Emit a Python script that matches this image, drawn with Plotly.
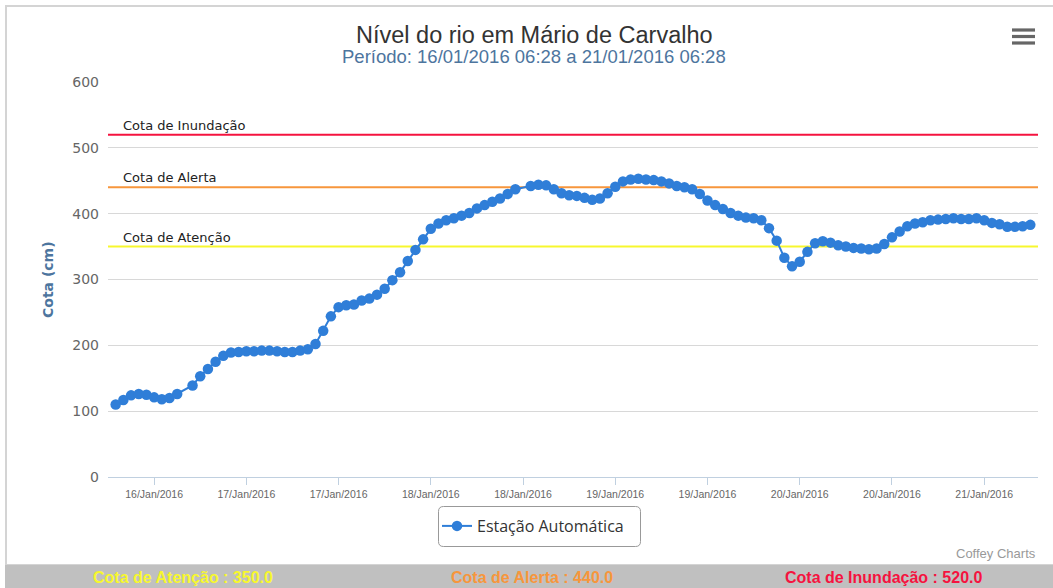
import pandas as pd
import plotly.graph_objects as go

# ---- data ----
start_time = "2016-01-16 07:00"
levels = [110, 117, 124, 126, 125, 121, 118, 120, 126, None,
          139, 153, 164, 175, 184, 189, 190, 191, 191, 192,
          192, 191, 190, 190, 192, 194, 202, 222, 244, 258,
          261, 262, 268, 271, 277, 286, 299, 311, 328, 345,
          361, 377, 385, 390, 393, 397, 401, 408, 413, 418,
          423, 430, 437, None, 442, 444, 443, 437, 431, 428,
          427, 424, 421, 423, 431, 441, 449, 452, 453, 452,
          451, 449, 446, 442, 440, 437, 430, 420, 413, 407,
          401, 397, 394, 393, 390, 378, 359, 333, 320, 327,
          342, 355, 358, 356, 352, 350, 348, 347, 346, 347,
          354, 364, 373, 381, 385, 387, 390, 391, 392, 393,
          392, 392, 393, 390, 386, 384, 380, 380, 381, 383]
times = pd.date_range(start_time, periods=len(levels), freq="h")

threshold_names = ["Cota de Atenção", "Cota de Alerta", "Cota de Inundação"]
threshold_values = [350.0, 440.0, 520.0]
threshold_colors = ["#f7f72e", "#f7963c", "#f5133f"]

series_name = "Estação Automática"
title_text = "Nível do rio em Mário de Carvalho"
subtitle_text = "Período: 16/01/2016 06:28 a 21/01/2016 06:28"
credit_text = "Coffey Charts"
y_title = "Cota (cm)"

# ---- geometry helpers (pixel -> paper) ----
W, H = 1053, 588
L, R, T, B = 108, 1038, 82, 477


def px(x):
    return (x - L) / (R - L)


def py(y):
    return (B - y) / (B - T)


fig = go.Figure()
fig.add_trace(go.Scatter(
    x=times, y=levels, mode="lines+markers", name=series_name,
    connectgaps=True,
    line=dict(color="#2f7ed8", width=2),
    marker=dict(color="#2f7ed8", size=10.5, line=dict(width=0)),
))

shapes = []
annotations = []

# threshold lines + labels
for name, val, col in zip(threshold_names, threshold_values, threshold_colors):
    shapes.append(dict(type="line", xref="paper", yref="y", x0=0, x1=1, y0=val, y1=val,
                       line=dict(color=col, width=2), layer="between"))
    annotations.append(dict(text=name, xref="paper", yref="y", x=px(121), y=val,
                            xanchor="left", yanchor="bottom", yshift=0, showarrow=False,
                            font=dict(family="DejaVu Sans", size=13, color="#222222")))

# outer frame
shapes.append(dict(type="rect", xref="paper", yref="paper", x0=px(6), x1=px(1062),
                   y0=py(565), y1=py(6), line=dict(color="#d4d4d4", width=2),
                   fillcolor="rgba(0,0,0,0)", layer="below"))
# bottom gray bar
shapes.append(dict(type="rect", xref="paper", yref="paper", x0=px(5), x1=px(1060),
                   y0=py(595), y1=py(565), line=dict(width=0), fillcolor="#c0c0c0",
                   layer="below"))
# legend box (rounded)
lx0, lx1, ly0, ly1, r = 438.5, 640.5, 506.5, 546.5, 5
rx, ry = r / (R - L), r / (B - T)
a0, a1, b0, b1 = px(lx0), px(lx1), py(ly1), py(ly0)
path = (f"M {a0+rx},{b0} L {a1-rx},{b0} Q {a1},{b0} {a1},{b0+ry} "
        f"L {a1},{b1-ry} Q {a1},{b1} {a1-rx},{b1} L {a0+rx},{b1} "
        f"Q {a0},{b1} {a0},{b1-ry} L {a0},{b0+ry} Q {a0},{b0} {a0+rx},{b0} Z")
shapes.append(dict(type="path", xref="paper", yref="paper", path=path,
                   line=dict(color="#999999", width=1), fillcolor="white", layer="below"))
# hamburger menu icon
for yc in (30, 36.5, 43):
    shapes.append(dict(type="rect", xref="paper", yref="paper", x0=px(1012), x1=px(1035),
                       y0=py(yc + 1.6), y1=py(yc - 1.6), line=dict(width=0),
                       fillcolor="#666666", layer="above"))

# titles
annotations.append(dict(text=title_text, xref="paper", yref="paper", x=px(534), y=py(35),
                        xanchor="center", yanchor="middle", showarrow=False,
                        font=dict(family="Liberation Sans", size=23.5, color="#333333")))
annotations.append(dict(text=subtitle_text, xref="paper", yref="paper", x=px(534), y=py(56),
                        xanchor="center", yanchor="middle", showarrow=False,
                        font=dict(family="Liberation Sans", size=18.5, color="#4d759e")))
annotations.append(dict(text=f"<b>{y_title}</b>", xref="paper", yref="paper", x=px(48), y=py(280),
                        xanchor="center", yanchor="middle", textangle=-90, showarrow=False,
                        font=dict(family="DejaVu Sans", size=14, color="#4d759e")))
annotations.append(dict(text=credit_text, xref="paper", yref="paper", x=px(1038), y=py(553),
                        xanchor="right", yanchor="middle", showarrow=False,
                        font=dict(family="Liberation Sans", size=13, color="#999999")))
# bottom bar texts
for name, val, col, cx in zip(threshold_names, threshold_values, threshold_colors,
                              (183, 532, 883)):
    annotations.append(dict(text=f"<b>{name} : {val:.1f}</b>", xref="paper", yref="paper",
                            x=px(cx), y=py(577), xanchor="center", yanchor="middle",
                            showarrow=False,
                            font=dict(family="Liberation Sans", size=16, color=col)))

fig.update_layout(
    width=W, height=H,
    margin=dict(l=L, r=W - R, t=T, b=H - B),
    paper_bgcolor="white", plot_bgcolor="white",
    showlegend=True,
    legend=dict(x=px(437), y=py(526), xanchor="left", yanchor="middle",
                orientation="h", bgcolor="rgba(0,0,0,0)", borderwidth=0,
                font=dict(family="Open Sans", size=16, color="#333333"), itemwidth=30),
    shapes=shapes, annotations=annotations,
    xaxis=dict(type="date", range=["2016-01-16 06:00", "2016-01-21 07:00"],
               tick0="2016-01-16 12:00", dtick=12 * 3600 * 1000, tickformat="%d/%b/%Y",
               showgrid=False, showline=True, linecolor="#c0d0e0", linewidth=1,
               ticks="outside", ticklen=7, tickcolor="#c0d0e0",
               tickfont=dict(family="Liberation Sans", size=10.5, color="#666666"),
               zeroline=False),
    yaxis=dict(range=[0, 600], dtick=100, tick0=0, showgrid=True, gridcolor="#d8d8d8",
               gridwidth=1, zeroline=False, showline=False, ticks="",
               tickfont=dict(family="DejaVu Sans", size=14, color="#666666"),
               ticklabelstandoff=8),
)

fig.write_html("out.html", config={"displayModeBar": False},
               post_script="document.body.style.margin='0';document.body.style.padding='0';")
